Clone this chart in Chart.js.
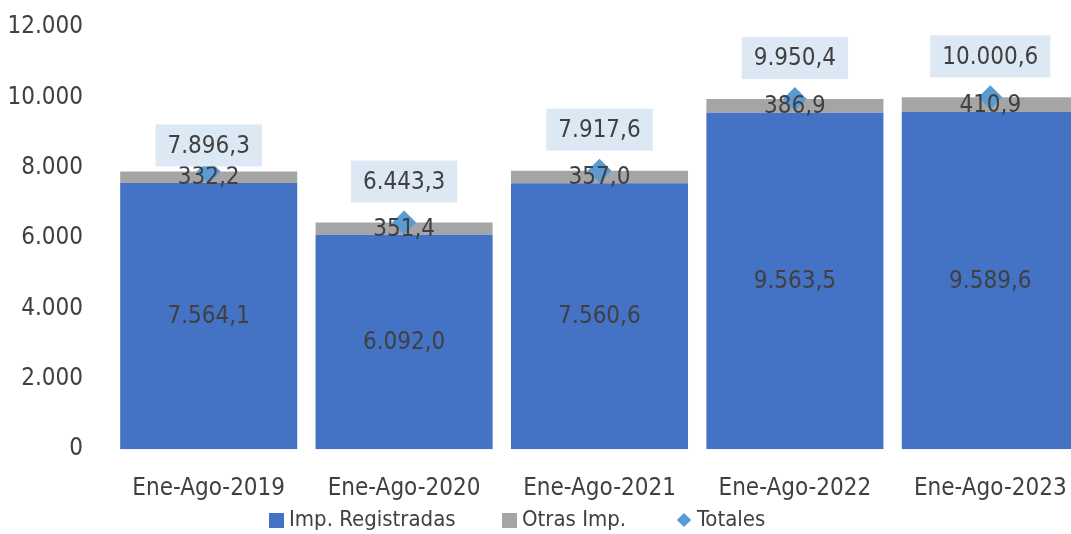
<!DOCTYPE html>
<html>
<head>
<meta charset="utf-8">
<script src="https://cdn.jsdelivr.net/npm/chart.js@4.4.1/dist/chart.umd.min.js"></script>
<style>
    html, body { margin: 0; padding: 0; overflow: hidden; background: #fff; }
    .wrap { position: relative; width: 1071px; height: 534px; overflow: hidden; }
    #importChart { position: absolute; left: 0; top: 0; }
    .legend { position: absolute; left: 0; top: 0; width: 1071px; height: 534px; pointer-events: none;
              font-family: 'DejaVu Sans Condensed', 'Liberation Sans Narrow', 'DejaVu Sans', sans-serif;
              font-size: 22px; color: #404040; }
    .legend span { position: absolute; white-space: nowrap; line-height: 24px; }
    .legend i { position: absolute; display: block; }
</style>
</head>
<body>
<div class="wrap">
    <canvas id="importChart" width="1100" height="534"></canvas>
    <div class="legend" id="legend"></div>
</div>
<script>
// Importaciones Ene-Ago (millones)
const categories = ['Ene-Ago-2019', 'Ene-Ago-2020', 'Ene-Ago-2021', 'Ene-Ago-2022', 'Ene-Ago-2023'];
const registradas = [7564.1, 6092.0, 7560.6, 9563.5, 9589.6];
const otras = [332.2, 351.4, 357.0, 386.9, 410.9];
const totales = [7896.3, 6443.3, 7917.6, 9950.4, 10000.6];
const yTicks = [0, 2000, 4000, 6000, 8000, 10000, 12000];

const FONT = "'DejaVu Sans Condensed', 'Liberation Sans Narrow', 'DejaVu Sans', sans-serif";
const TEXT = '#404040';

// gap between the total label box and its diamond
const labelLift = [5, 20, 20, 20, 20];

function fmtNum(v, dec) {
    const s = v.toFixed(dec);
    const parts = s.split('.');
    const ent = parts[0].replace(/\B(?=(\d{3})+(?!\d))/g, '.');
    return parts[1] ? ent + ',' + parts[1] : ent;
}

const valueLabels = {
    id: 'valueLabels',
    afterDatasetsDraw(chart) {
        const ctx = chart.ctx;
        ctx.save();
        ctx.font = '24px ' + FONT;
        ctx.textAlign = 'center';
        ctx.textBaseline = 'middle';

        // labels in the middle of the stacked segments
        [0, 1].forEach(di => {
            const meta = chart.getDatasetMeta(di);
            meta.data.forEach((bar, i) => {
                const y = (bar.y + bar.base) / 2;
                ctx.fillStyle = TEXT;
                ctx.fillText(fmtNum(chart.data.datasets[di].data[i], 1), bar.x, y + 1);
            });
        });

        // totals in a light blue box above the diamond
        const tm = chart.getDatasetMeta(2);
        tm.data.forEach((pt, i) => {
            const txt = fmtNum(totales[i], 1);
            const w = ctx.measureText(txt).width + 24;
            const h = 42;
            const bottom = pt.y - labelLift[i];
            ctx.fillStyle = '#dde8f5';
            ctx.fillRect(pt.x - w / 2, bottom - h, w, h);
            ctx.fillStyle = TEXT;
            ctx.fillText(txt, pt.x, bottom - h / 2 + 1);
        });
        ctx.restore();
    }
};

const ctx = document.getElementById('importChart').getContext('2d');
Chart.defaults.font.family = FONT;
Chart.defaults.color = TEXT;

const chart = new Chart(ctx, {
    type: 'bar',
    data: {
        labels: categories,
        datasets: [{
            label: 'Imp. Registradas',
            data: registradas,
            backgroundColor: '#4472c4',
            order: 1
        }, {
            label: 'Otras Imp.',
            data: otras,
            backgroundColor: '#a5a5a5',
            order: 1
        }, {
            type: 'line',
            label: 'Totales',
            data: totales,
            stack: 'totales',
            showLine: false,
            pointStyle: 'rectRot',
            pointRadius: 12,
            pointHoverRadius: 12,
            pointBackgroundColor: '#5b9bd5',
            pointBorderWidth: 0,
            borderColor: '#5b9bd5',
            order: 0
        }]
    },
    options: {
        responsive: false,
        animation: false,
        events: [],
        layout: {
            padding: { top: 27, right: 7, bottom: 6, left: 0 }
        },
        datasets: {
            bar: {
                categoryPercentage: 1,
                barPercentage: 0.906
            }
        },
        plugins: {
            legend: { display: false },
            tooltip: { enabled: false }
        },
        scales: {
            x: {
                stacked: true,
                grid: { display: false, drawTicks: false },
                border: { display: false },
                ticks: {
                    padding: 25,
                    color: TEXT,
                    font: { size: 24 }
                }
            },
            y: {
                stacked: true,
                min: 0,
                max: 12000,
                grid: { display: false, drawTicks: false },
                border: { display: false },
                afterBuildTicks: axis => {
                    axis.ticks = yTicks.map(v => ({ value: v }));
                },
                afterFit: axis => {
                    axis.width = 111;
                    axis.paddingTop = 0;
                    axis.paddingBottom = 0;
                },
                ticks: {
                    padding: 28,
                    color: TEXT,
                    font: { size: 24 },
                    callback: v => fmtNum(v, 0)
                }
            }
        }
    },
    plugins: [valueLabels]
});

// legend built from the datasets
const legendX = [269, 502, 677];
const legendEl = document.getElementById('legend');
chart.data.datasets.forEach((ds, i) => {
    const mark = document.createElement('i');
    if (ds.pointStyle === 'rectRot') {
        mark.style.cssText = `left:${legendX[i] + 2}px;top:515px;width:10px;height:10px;background:${ds.pointBackgroundColor};transform:rotate(45deg);`;
    } else {
        mark.style.cssText = `left:${legendX[i]}px;top:513px;width:15px;height:15px;background:${ds.backgroundColor};`;
    }
    const txt = document.createElement('span');
    txt.textContent = ds.label;
    txt.style.left = (legendX[i] + 20) + 'px';
    txt.style.top = '507px';
    legendEl.appendChild(mark);
    legendEl.appendChild(txt);
});
</script>
</body>
</html>
